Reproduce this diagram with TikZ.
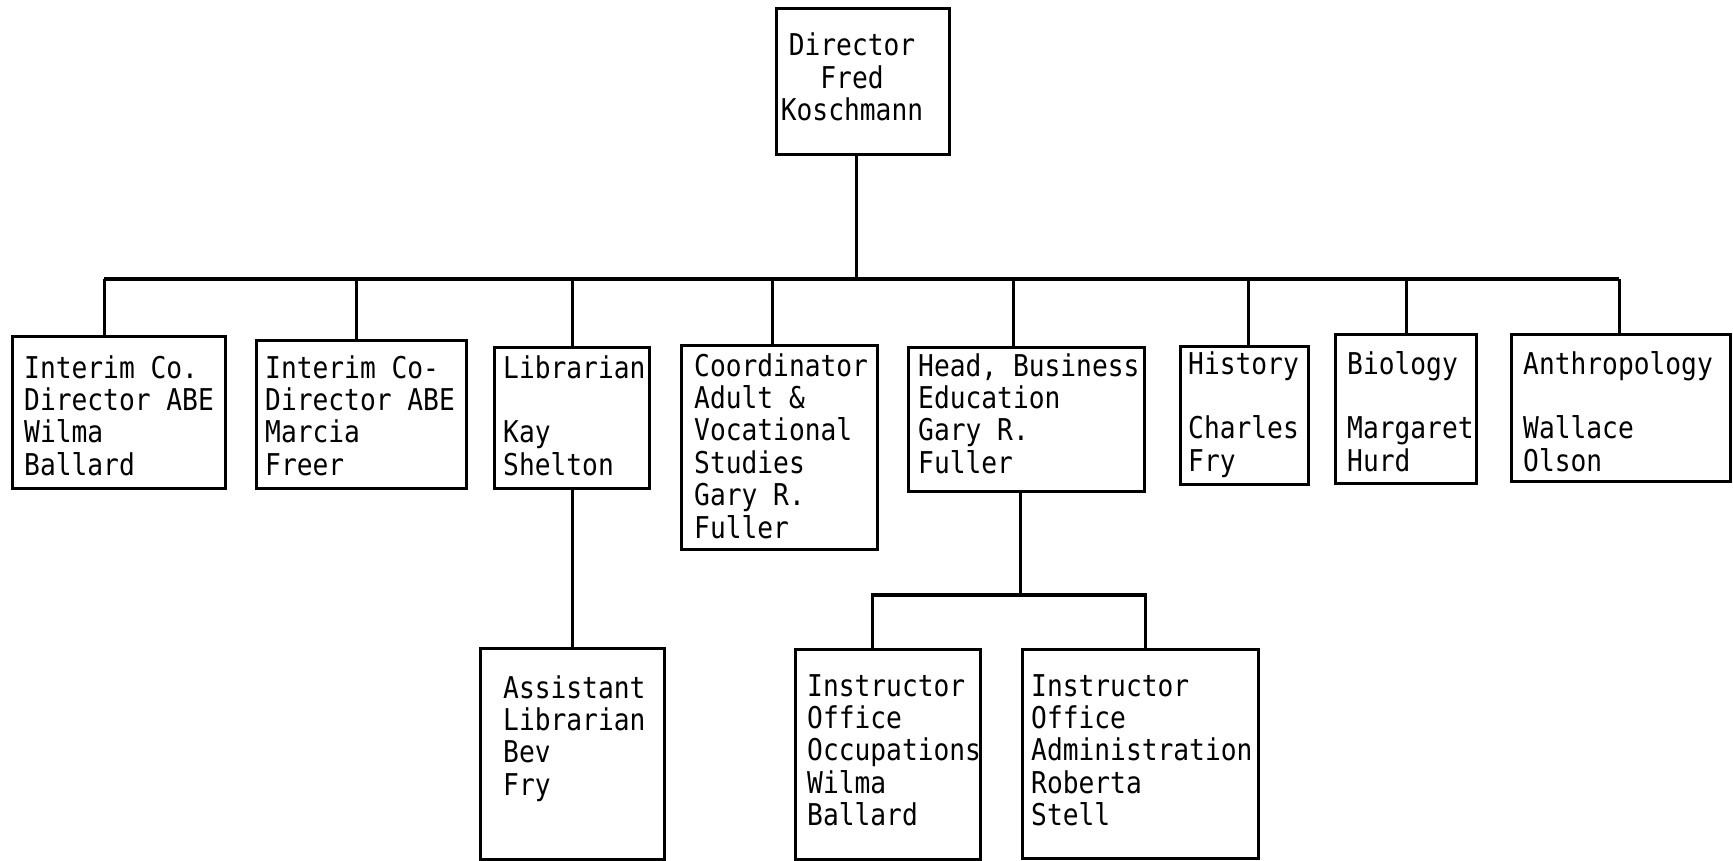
\documentclass[tikz,border=0pt]{standalone}
\usepackage{fontspec}
\newfontfamily\typewriter[FakeStretch=0.875]{DejaVu Sans Mono}

\begin{document}
\begin{tikzpicture}[x=1pt,y=-1pt,
    post/.style ={draw, line width=3.4pt, anchor=north west, inner sep=0pt},
    words/.style ={anchor=north west, inner sep=0pt, align=left,
      font=\typewriter\fontsize{30}{32.4}\selectfont},
    link/.style ={line width=3.4pt}]
   \useasboundingbox (0,0) rectangle (1733,860);

   % boxes
   \node[post, line width=3pt, minimum width=173, minimum height=146] (dir) at (775,7) {};
   \node[post, minimum width=213, minimum height=152] (abea) at (11,335) {};
   \node[post, minimum width=210, minimum height=148] (abeb) at (255,339) {};
   \node[post, minimum width=155, minimum height=141] (lib) at (493,346) {};
   \node[post, minimum width=196, minimum height=204] (coord) at (680,344) {};
   \node[post, minimum width=236, minimum height=144] (bused) at (907,346) {};
   \node[post, minimum width=128, minimum height=138] (hist) at (1179,345) {};
   \node[post, minimum width=141, minimum height=149] (bio) at (1334,333) {};
   \node[post, minimum width=219, minimum height=147] (anth) at (1510,333) {};
   \node[post, minimum width=184, minimum height=211] (asst) at (479,647) {};
   \node[post, minimum width=185, minimum height=210] (occ) at (794,648) {};
   \node[post, minimum width=236, minimum height=209] (adm) at (1021,648) {};

   % texts
   \node[words, align=center, anchor=north] (dirt) at (852,33) {Director\\Fred\\Koschmann};
   \node[words] (abeat) at (24,355) {Interim Co.\\Director ABE\\Wilma\\Ballard};
   \node[words] (abebt) at (265,355) {Interim Co-\\Director ABE\\Marcia\\Freer};
   \node[words] (libt) at (503,355) {Librarian\\~\\Kay\\Shelton};
   \node[words] (coordt) at (694,353) {Coordinator\\Adult \&\\Vocational\\Studies\\Gary R.\\Fuller};
   \node[words] (busedt) at (918,353) {Head, Business\\Education\\Gary R.\\Fuller};
   \node[words] (histt) at (1188,351) {History\\~\\Charles\\Fry};
   \node[words] (biot) at (1347,351) {Biology\\~\\Margaret\\Hurd};
   \node[words] (antht) at (1523,351) {Anthropology\\~\\Wallace\\Olson};
   \node[words] (asstt) at (503,675) {Assistant\\Librarian\\Bev\\Fry};
   \node[words] (occt) at (807,674) {Instructor\\Office\\Occupations\\Wilma\\Ballard};
   \node[words] (admt) at (1031,674) {Instructor\\Office\\Administration\\Roberta\\Stell};

   % lines
   \coordinate (bar) at (0,279);
   \draw[link, line width=3pt] ([xshift=-7]dir.south) -- ([xshift=-7]dir.south |- bar);
   \draw[link, line width=4pt] ([xshift=-15]abea.north |- bar) -- ([xshift=-2]anth.north |- bar);
   \draw[link] ([xshift=-15]abea.north |- bar) -- ([xshift=-15]abea.north);
   \draw[link] ([xshift=-5]abeb.north |- bar) -- ([xshift=-5]abeb.north);
   \draw[link] (lib.north |- bar) -- (lib.north);
   \draw[link] ([xshift=-7]coord.north |- bar) -- ([xshift=-7]coord.north);
   \draw[link] ([xshift=-13]bused.north |- bar) -- ([xshift=-13]bused.north);
   \draw[link] ([xshift=4]hist.north |- bar) -- ([xshift=4]hist.north);
   \draw[link] (bio.north |- bar) -- (bio.north);
   \draw[link] ([xshift=-2]anth.north |- bar) -- ([xshift=-2]anth.north);

   \draw[link] (lib.south) -- (lib.south |- asst.north);
   \coordinate (fork) at (0,595);
   \draw[link] ([xshift=-6]bused.south) -- ([xshift=-6]bused.south |- fork);
   \draw[link] ([xshift=-16]occ.north) -- ([xshift=-16]occ.north |- fork)
      -- ([xshift=5]adm.north |- fork) -- ([xshift=5]adm.north);
 \end{tikzpicture}
\end{document}
